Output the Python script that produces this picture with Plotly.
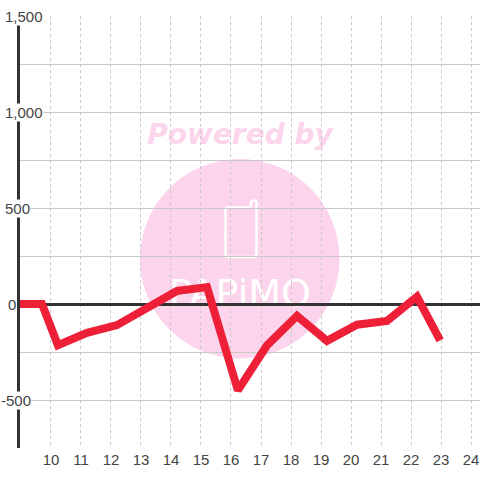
import plotly.graph_objects as go

x_values = [8.87, 9.7, 10.23, 11.2, 12.2, 13.2, 14.2, 15.2, 16.23, 17.2, 18.2, 19.2, 20.2, 21.2, 22.2, 22.97]
y_values = [0, 0, -215, -150, -110, -25, 68, 88, -450, -215, -62, -192, -108, -88, 38, -190]
x_ticks = list(range(10, 25))
y_label_values = [1500, 1000, 500, 0, -500]
y_label_texts = ["1,500", "1,000", "500", "0", "-500"]
y_label_right_px = [43, 43, 30, 16, 31]

W, H = 480, 480
L, R, T, B = 20, 480, 16, 448
def px(v): return (v - L) / (R - L)
def py(v): return (B - v) / (B - T)
def P(a, b): return f"{px(a):.5f},{py(b):.5f}"

PINK = "#fcd5ec"
TEXT = "#444444"

phone = ("M " + P(250, 207.5) + " L " + P(228.5, 207.5) + " Q " + P(225.5, 207.5) + " " + P(225.5, 210.5)
         + " L " + P(225.5, 254) + " Q " + P(225.5, 257) + " " + P(228.5, 257)
         + " L " + P(253.5, 257) + " Q " + P(256.5, 257) + " " + P(256.5, 254)
         + " L " + P(256.5, 203) + " Q " + P(256.5, 200.5) + " " + P(254, 200.5)
         + " Q " + P(251, 200.5) + " " + P(251, 203) + " L " + P(251, 207.5))

fig = go.Figure()
fig.add_trace(go.Scatter(x=x_values, y=y_values, mode="lines", cliponaxis=False,
                         line=dict(color="#ee2038", width=8), hoverinfo="skip"))

shapes = [
    dict(type="circle", xref="paper", yref="paper", layer="below",
         x0=px(140), x1=px(339.5), y0=py(358.5), y1=py(159),
         fillcolor=PINK, line=dict(width=0)),
    dict(type="path", xref="paper", yref="paper", layer="below", path=phone,
         fillcolor="rgba(0,0,0,0)", line=dict(color="white", width=2.5)),
    dict(type="rect", xref="paper", yref="paper", layer="below",
         x0=px(140), x1=px(340), y0=py(148), y1=py(116),
         fillcolor="rgba(0,0,0,0)", line=dict(width=0),
         label=dict(text="<b><i>Powered by</i></b>", textposition="middle center",
                    font=dict(family="DejaVu Sans", size=28, color=PINK))),
    dict(type="rect", xref="paper", yref="paper", layer="below",
         x0=px(160), x1=px(320), y0=py(310), y1=py(270),
         fillcolor="rgba(0,0,0,0)", line=dict(width=0),
         label=dict(text="PAPiMO", textposition="middle center",
                    font=dict(family="DejaVu Sans", size=38, color="white"))),
]

annotations = [
    dict(xref="paper", yref="y", x=px(r), y=v, text=t, showarrow=False,
         xanchor="right", yanchor="middle", bgcolor="white", borderpad=0, xshift=1,
         font=dict(family="Liberation Sans", size=15, color=TEXT))
    for v, t, r in zip(y_label_values, y_label_texts, y_label_right_px)
]

fig.update_layout(
    width=W, height=H, autosize=False, showlegend=False,
    paper_bgcolor="white", plot_bgcolor="white",
    margin=dict(l=L, r=W - R, t=T, b=H - B, pad=0),
    shapes=shapes, annotations=annotations,
    xaxis=dict(range=[8.967, 24.3], tickmode="array", tickvals=x_ticks,
               ticktext=[str(t) for t in x_ticks], showgrid=True,
               gridcolor="#c8c8c8", griddash="dot", gridwidth=1, zeroline=False,
               showline=False, ticks="", ticklen=0, ticklabelstandoff=1,
               tickfont=dict(family="Liberation Sans", size=15, color=TEXT)),
    yaxis=dict(range=[-750, 1500], tick0=0, dtick=250, showgrid=True,
               gridcolor="#c8c8c8", gridwidth=1, zeroline=True, zerolinecolor="#333333",
               zerolinewidth=3, showline=True, linecolor="#333333", linewidth=3,
               showticklabels=False, ticks=""),
)

fig.write_html("out.html", config=dict(displayModeBar=False),
               post_script="document.body.style.margin='0';document.body.style.overflow='hidden';")
